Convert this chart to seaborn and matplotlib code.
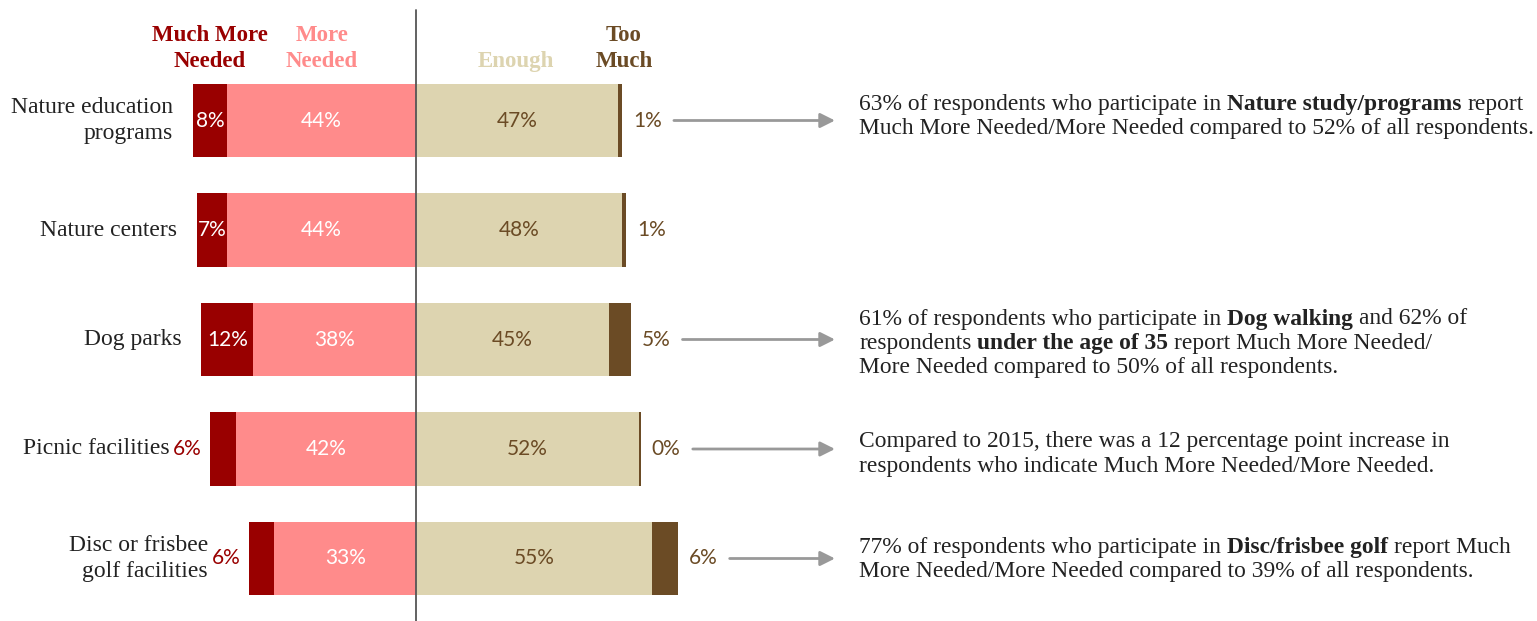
import matplotlib
matplotlib.use("Agg")
import matplotlib.pyplot as plt
from matplotlib.transforms import IdentityTransform
import seaborn as sns
import pandas as pd

# ---- data -------------------------------------------------------------
categories = ["Nature education\nprograms", "Nature centers", "Dog parks",
              "Picnic facilities", "Disc or frisbee\ngolf facilities"]
much_more_needed = [8, 7, 12, 6, 6]
more_needed = [44, 44, 38, 42, 33]
enough = [47, 48, 45, 52, 55]
too_much = [1, 1, 5, 0.4, 6]

header_labels = ["Much More\nNeeded", "More\nNeeded", "Enough", "Too\nMuch"]

# notes per row: list of lines, each line a list of (text, bold) pieces
notes = {
    0: [[("63% of respondents who participate in", False), ("Nature study/programs", True), ("report", False)],
        [("Much More Needed/More Needed compared to 52% of all respondents.", False)]],
    2: [[("61% of respondents who participate in", False), ("Dog walking", True), ("and 62% of", False)],
        [("respondents", False), ("under the age of 35", True), ("report Much More Needed/", False)],
        [("More Needed compared to 50% of all respondents.", False)]],
    3: [[("Compared to 2015, there was a 12 percentage point increase in", False)],
        [("respondents who indicate Much More Needed/More Needed.", False)]],
    4: [[("77% of respondents who participate in", False), ("Disc/frisbee golf", True), ("report Much", False)],
        [("More Needed/More Needed compared to 39% of all respondents.", False)]],
}
# vertical nudge (pixels) of each note block relative to its row centre
note_shift_px = {0: -4, 2: 4, 3: 5, 4: 1}

# ---- style ------------------------------------------------------------
C_DARK = "#990000"
C_PINK = "#FF8B8B"
C_BEIGE = "#DDD4B0"
C_BROWN = "#6B4B25"
C_TEXT = "#222222"
C_ARROW = "#999999"
SERIF = "Liberation Serif"
SANS = "Lato"

sns.set_theme(style="white")
plt.rcParams["font.family"] = [SERIF, "DejaVu Serif"]

W, H = 1537, 621
fig = plt.figure(figsize=(W / 100, H / 100), dpi=100)
ax = fig.add_axes([0, 0, 1, 1])

df = pd.DataFrame({
    "category": categories,
    "left_total": [-(a + b) for a, b in zip(much_more_needed, more_needed)],
    "left_more": [-b for b in more_needed],
    "right_total": [a + b for a, b in zip(enough, too_much)],
    "right_enough": enough,
})

bar_kw = dict(y="category", data=df, orient="h", width=0.667, saturation=1,
              linewidth=0, errorbar=None, ax=ax, order=categories)
sns.barplot(x="left_total", color=C_DARK, **bar_kw)
sns.barplot(x="left_more", color=C_PINK, **bar_kw)
sns.barplot(x="right_total", color=C_BROWN, **bar_kw)
sns.barplot(x="right_enough", color=C_BEIGE, **bar_kw)

px_per_unit_x = 4.29
center_px = 416
ax.set_xlim(-center_px / px_per_unit_x, (W - center_px) / px_per_unit_x)
row_px = 109.5
first_row_px = 120.5
ax.set_ylim(4 + (H - (first_row_px + 4 * row_px)) / row_px, -first_row_px / row_px)
ax.axis("off")

ax.axvline(0, ymin=0, ymax=1 - 10 / H, color="#555555", lw=1.3, zorder=5)

renderer = fig.canvas.get_renderer()
LBL_SIZE = 15
CAT_SIZE = 17
NOTE_SIZE = 16.9
HEAD_SIZE = 16.5

for i, cat in enumerate(categories):
    mm, m, e, t = much_more_needed[i], more_needed[i], enough[i], too_much[i]
    left_edge = -(mm + m)
    # more needed
    ax.text(-m / 2, i, f"{m:.0f}%", ha="center", va="center", color="white",
            fontsize=LBL_SIZE, family=SANS, zorder=6)
    # enough
    ax.text(e / 2, i, f"{e:.0f}%", ha="center", va="center", color=C_BROWN,
            fontsize=LBL_SIZE, family=SANS, zorder=6)
    # too much, outside right
    ax.annotate(f"{round(t):.0f}%", xy=(e + t, i), xytext=(11, 0),
                textcoords="offset pixels", ha="left", va="center",
                color=C_BROWN, fontsize=LBL_SIZE, family=SANS)
    # much more needed: inside when wide enough, otherwise outside left
    if mm >= 7:
        ax.text(left_edge + mm / 2, i, f"{mm:.0f}%", ha="center", va="center",
                color="white", fontsize=LBL_SIZE, family=SANS, zorder=6)
        cat_offset = -20
    else:
        lab = ax.annotate(f"{mm:.0f}%", xy=(left_edge, i), xytext=(-8, 0),
                          textcoords="offset pixels", ha="right", va="center",
                          color=C_DARK, fontsize=LBL_SIZE, family=SANS)
        w = lab.get_window_extent(renderer).width
        cat_offset = -8 - w - 4
    ax.annotate(cat, xy=(left_edge, i), xytext=(cat_offset, 0),
                textcoords="offset pixels", ha="right", va="center",
                multialignment="right", color=C_TEXT, fontsize=CAT_SIZE,
                linespacing=1.28)

    # arrow and note
    if i in notes:
        start_x = e + t + 52 / px_per_unit_x
        end_x = (835 - center_px) / px_per_unit_x
        ax.annotate("", xy=(end_x, i), xytext=(start_x, i),
                    arrowprops=dict(arrowstyle="-|>", color=C_ARROW, lw=2,
                                    mutation_scale=22, shrinkA=0, shrinkB=0))
        lines = notes[i]
        n = len(lines)
        row_center = first_row_px + i * row_px + note_shift_px[i]
        for k, pieces in enumerate(lines):
            y_px = row_center + (k - (n - 1) / 2) * 24.5
            x_px = 859
            for j, (txt, bold) in enumerate(pieces):
                weight = "bold" if bold else "normal"
                tt = fig.text(x_px, H - y_px, txt, transform=IdentityTransform(),
                              ha="left", va="center", fontsize=NOTE_SIZE,
                              fontweight=weight, color=C_TEXT)
                x_px += tt.get_window_extent(renderer).width
                if j < len(pieces) - 1:
                    a = fig.text(0, 0, "xx", fontsize=NOTE_SIZE, fontweight=weight)
                    b = fig.text(0, 0, "x x", fontsize=NOTE_SIZE, fontweight=weight)
                    x_px += b.get_window_extent(renderer).width - a.get_window_extent(renderer).width
                    a.remove()
                    b.remove()

# column headers
header_specs = [
    (210, C_DARK), (322, C_PINK), (516, C_BEIGE), (624, C_BROWN),
]
for text, (x_px, col) in zip(header_labels, header_specs):
    fig.text(x_px, H - 67, text, transform=IdentityTransform(), ha="center",
             va="baseline", fontsize=HEAD_SIZE, fontweight="bold", color=col,
             linespacing=1.3, multialignment="center")

fig.savefig("out.png", dpi=100)
